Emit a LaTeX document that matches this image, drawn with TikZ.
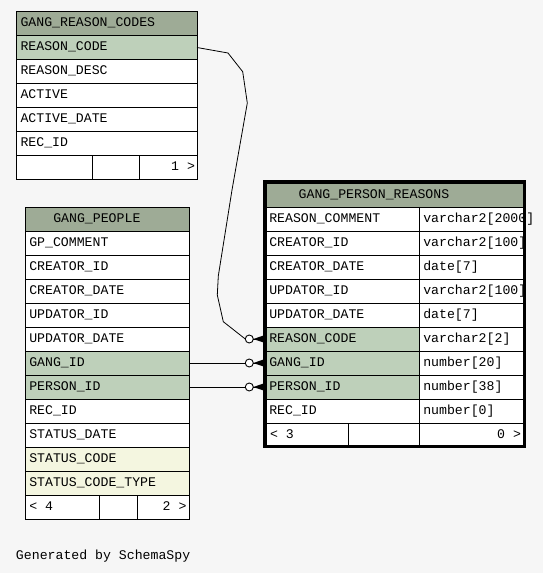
\documentclass[tikz,border=0pt]{standalone}
\usepackage{fontspec}
\newfontfamily\dbmono{Liberation Mono}
\definecolor{bgc}{RGB}{246,246,246}
\definecolor{hdrc}{RGB}{158,171,150}
\definecolor{keyc}{RGB}{190,208,186}
\definecolor{idxc}{RGB}{244,246,224}
\begin{document}
\begin{tikzpicture}[x=1pt,y=-1pt,
  cellbox/.style={draw=black, line width=1pt, anchor=north west, inner sep=0pt, outer sep=0pt, minimum height=24pt},
  txt/.style={anchor=base west, inner sep=0pt, outer sep=0pt, font=\dbmono\fontsize{13.2}{14}\selectfont},
  rtxt/.style={txt, anchor=base east},
  ring/.style={circle, draw=black, fill=white, line width=0.9pt, minimum size=8pt, inner sep=0pt, outer sep=0pt},
  link/.style={draw=black, line width=0.8pt}]
\useasboundingbox[fill=bgc] (0,0) rectangle (543,573);

% ---------------- GANG_REASON_CODES
\node[cellbox, fill=hdrc, minimum width=181pt] (grc-h) at (16,11.5) {};
\node[txt] (grc-ht) at (20.5,26.7) {GANG\_REASON\_CODES};
\foreach \n/\f [count=\i from 0] in {REASON\_CODE/keyc, REASON\_DESC/white, ACTIVE/white, ACTIVE\_DATE/white, REC\_ID/white}{
  \node[cellbox, fill=\f, minimum width=181pt] (grc-\i) at (16,35.5+24*\i) {};
  \node[txt] (grc-t\i) at (20.5,50.7+24*\i) {\n};
}
\node[cellbox, fill=white, minimum width=76pt] (grc-f1) at (16,155.5) {};
\node[cellbox, fill=white, minimum width=47pt] (grc-f2) at (92,155.5) {};
\node[cellbox, fill=white, minimum width=58pt] (grc-f3) at (139,155.5) {};
\node[rtxt] (grc-ft) at (195,170.7) {1 >};

% ---------------- GANG_PEOPLE
\node[cellbox, fill=hdrc, minimum width=164pt] (gp-h) at (25.3,207.5) {};
\node[txt] (gp-ht) at (53.3,222.7) {GANG\_PEOPLE};
\foreach \n/\f [count=\i from 0] in {GP\_COMMENT/white, CREATOR\_ID/white, CREATOR\_DATE/white, UPDATOR\_ID/white, UPDATOR\_DATE/white, GANG\_ID/keyc, PERSON\_ID/keyc, REC\_ID/white, STATUS\_DATE/white, STATUS\_CODE/idxc, STATUS\_CODE\_TYPE/idxc}{
  \node[cellbox, fill=\f, minimum width=164pt] (gp-\i) at (25.3,231+24*\i) {};
  \node[txt] (gp-t\i) at (29.3,246.2+24*\i) {\n};
}
\node[cellbox, fill=white, minimum width=74pt] (gp-f1) at (25.3,495) {};
\node[cellbox, fill=white, minimum width=38.4pt] (gp-f2) at (99.3,495) {};
\node[cellbox, fill=white, minimum width=51.6pt] (gp-f3) at (137.7,495) {};
\node[txt] (gp-fl) at (29.3,510.2) {< 4};
\node[rtxt] (gp-fr) at (186.5,510.2) {2 >};

% ---------------- GANG_PERSON_REASONS
\node[cellbox, fill=hdrc, minimum width=257pt] (gpr-h) at (266,183) {};
\node[txt] (gpr-ht) at (298.7,198.5) {GANG\_PERSON\_REASONS};
\foreach \n/\t/\f [count=\i from 0] in {REASON\_COMMENT/{}/white, CREATOR\_ID/{varchar2[100]}/white, CREATOR\_DATE/{date[7]}/white, UPDATOR\_ID/{varchar2[100]}/white, UPDATOR\_DATE/{date[7]}/white, REASON\_CODE/{varchar2[2]}/keyc, GANG\_ID/{number[20]}/keyc, PERSON\_ID/{number[38]}/keyc, REC\_ID/{number[0]}/white}{
  \node[cellbox, fill=\f, minimum width=153pt] (gpr-\i) at (266,207+24*\i) {};
  \node[cellbox, fill=white, minimum width=104pt] (gpr-v\i) at (419,207+24*\i) {};
  \node[txt] (gpr-t\i) at (269.3,222.2+24*\i) {\n};
  \node[txt] (gpr-u\i) at (423.3,222.2+24*\i) {\t};
}
\node[cellbox, fill=white, minimum width=82.3pt] (gpr-f1) at (266,423) {};
\node[cellbox, fill=white, minimum width=70.7pt] (gpr-f2) at (348.3,423) {};
\node[cellbox, fill=white, minimum width=104pt] (gpr-f3) at (419,423) {};
\node[txt] (gpr-fl) at (270,438.2) {< 3};
\node[rtxt] (gpr-fr) at (521,438.2) {0 >};
\draw[line width=3.3pt] (264.3,181.7) rectangle (524.3,446.7);
% value that runs past the thick frame
\node[txt] (gpr-w0) at (423.3,222.2) {varchar2[2000]};

% ---------------- connectors
\node[ring] (r1) at (249.3,339) {};
\node[ring] (r2) at (249.3,363) {};
\node[ring] (r3) at (249.3,387) {};
\foreach \r/\row in {r1/gpr-5, r2/gpr-6, r3/gpr-7}{
  \fill (\row.west |- \r.east) ++(-1.5,-3.8) -- ++(0,7.6) -- (\r.east) -- cycle;
  \draw[line width=0.9pt] (\r.east) -- (\row.west |- \r.east);
}
\draw[link] (grc-0.east) -- (228,53) -- (242.7,71.7) -- (247.3,103) -- (232,190)
  -- (218.3,276) -- (217.3,295) -- (223.3,321.7) -- (r1.west);
\draw[link] (gp-5.east) -- (r2.west);
\draw[link] (gp-6.east) -- (r3.west);

% ---------------- footer
\node[txt] (gen) at (16,559) {Generated by SchemaSpy};
\end{tikzpicture}
\end{document}
